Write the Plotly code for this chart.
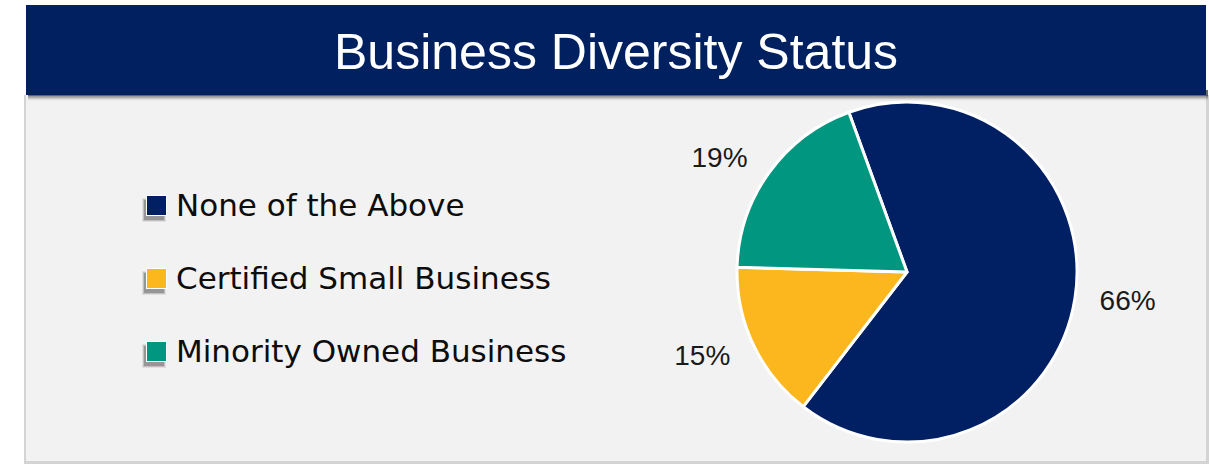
import plotly.graph_objects as go

# ---- data ----
labels = ["None of the Above", "Certified Small Business", "Minority Owned Business"]
values = [66, 15, 19]
colors = ["#012064", "#FDB71E", "#009680"]
title_text = "Business Diversity Status"

W, H = 1209, 464

def px(x):
    return x / W

def py(y):
    return 1 - y / H

CX, CY, R = 907, 272, 170
RL = 187  # radius of transparent label ring

fig = go.Figure()

# visible pie
fig.add_trace(go.Pie(
    labels=labels,
    values=values,
    sort=False,
    direction="clockwise",
    rotation=-20,
    marker=dict(colors=colors, line=dict(color="white", width=3)),
    textinfo="none",
    showlegend=False,
    hoverinfo="label+percent",
    domain=dict(x=[px(CX - R), px(CX + R)], y=[py(CY + R), py(CY - R)]),
))

# transparent ring carrying the outside percentage labels a bit further out
fig.add_trace(go.Pie(
    labels=labels,
    values=values,
    sort=False,
    direction="clockwise",
    rotation=-20,
    marker=dict(colors=["rgba(0,0,0,0)"] * len(values), line=dict(width=0)),
    textinfo="percent",
    texttemplate="%{percent:.0%}",
    textposition="outside",
    outsidetextfont=dict(family="Liberation Sans", size=28, color="#1a1a1a"),
    showlegend=False,
    hoverinfo="skip",
    domain=dict(x=[px(CX - RL), px(CX + RL)], y=[py(CY + RL), py(CY - RL)]),
))

shapes = []
# panel shadow + panel
shapes.append(dict(type="rect", xref="paper", yref="paper", layer="below",
                   x0=px(24), x1=px(1209), y0=py(464), y1=py(95),
                   fillcolor="#d4d4d4", line=dict(width=0)))
shapes.append(dict(type="rect", xref="paper", yref="paper", layer="below",
                   x0=px(26), x1=px(1206), y0=py(461), y1=py(95),
                   fillcolor="#f2f2f2", line=dict(width=0)))
# banner shadow (soft)
for i, op in enumerate([0.35, 0.22, 0.12, 0.06]):
    shapes.append(dict(type="rect", xref="paper", yref="paper", layer="below",
                       x0=px(28), x1=px(1208), y0=py(96 + i * 1.5), y1=py(90),
                       fillcolor="black", opacity=op, line=dict(width=0)))
# banner
shapes.append(dict(type="rect", xref="paper", yref="paper", layer="below",
                   x0=px(26), x1=px(1206), y0=py(95), y1=py(5),
                   fillcolor="#002060", line=dict(width=0)))

annotations = [dict(text=title_text, xref="paper", yref="paper",
                    x=px(616), y=py(52), xanchor="center", yanchor="middle",
                    showarrow=False,
                    font=dict(family="Liberation Sans", size=50, color="white"))]

# custom legend
leg_y = [205, 278, 351]
for lab, col, yy in zip(labels, colors, leg_y):
    # soft shadow below-left of marker
    for i, op in enumerate([0.22, 0.14, 0.07]):
        shapes.append(dict(type="rect", xref="paper", yref="paper",
                           x0=px(144 - i), x1=px(164 + i),
                           y0=py(yy + 15 + i), y1=py(yy - 5 - i),
                           fillcolor="black", opacity=op, line=dict(width=0)))
    shapes.append(dict(type="rect", xref="paper", yref="paper",
                       x0=px(146), x1=px(167), y0=py(yy + 11), y1=py(yy - 10),
                       fillcolor="white", line=dict(width=0)))
    shapes.append(dict(type="rect", xref="paper", yref="paper",
                       x0=px(147), x1=px(166), y0=py(yy + 10), y1=py(yy - 9),
                       fillcolor=col, line=dict(width=0)))
    annotations.append(dict(text=lab, xref="paper", yref="paper",
                            x=px(174), y=py(yy), xanchor="left", yanchor="middle",
                            showarrow=False,
                            font=dict(family="DejaVu Sans", size=31, color="#0d0d0d")))

fig.update_layout(
    width=W, height=H,
    margin=dict(l=0, r=0, t=0, b=0),
    paper_bgcolor="white",
    plot_bgcolor="white",
    shapes=shapes,
    annotations=annotations,
)

fig.write_html("out.html", config={"displayModeBar": False},
               post_script="document.body.style.margin='0';")
